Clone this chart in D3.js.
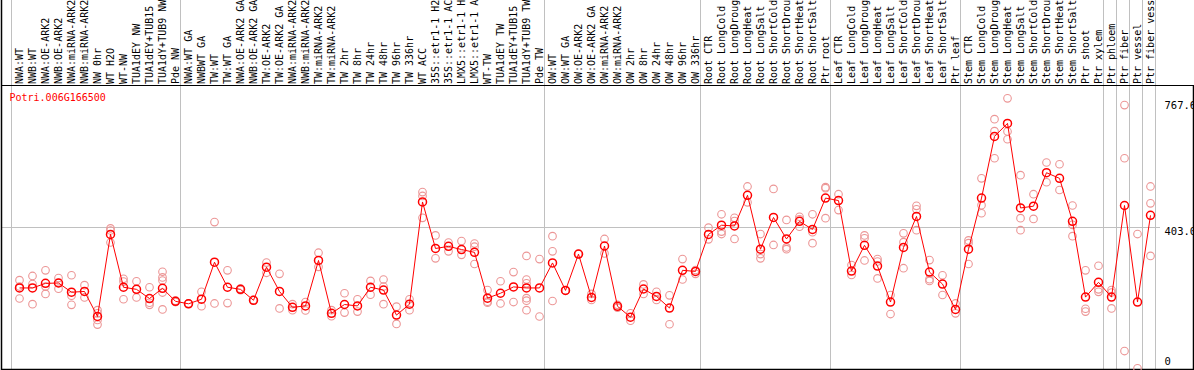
<!DOCTYPE html>
<html><head><meta charset="utf-8">
<script src="https://cdn.jsdelivr.net/npm/d3@7/dist/d3.min.js"></script>
<style>body{margin:0;background:#fff}svg{display:block}</style>
</head><body>
<svg id="c" width="1194" height="370"></svg>
<script>
const categories = ["NWA:WT","NWB:WT","NWA:OE-ARK2","NWB:OE-ARK2","NWA:miRNA-ARK2","NWB:miRNA-ARK2","NW 0hr","WT H2O","WT-NW","TUA1dEY NW","TUA1dEY+TUB15 NW","TUA1dY+TUB9 NW","Pde NW",
"NWA:WT GA","NWBWT GA","TW:WT","TW:WT GA","NWA:OE-ARK2 GA","NWB:OE-ARK2 GA","TW:OE-ARK2","TW:OE-ARK2 GA","NWA:miRNA-ARK2 GA","NWB:miRNA-ARK2 GA","TW:miRNA-ARK2","TW:miRNA-ARK2 GA","TW 2hr","TW 8hr","TW 24hr","TW 48hr","TW 96hr","TW 336hr","WT ACC","35S::etr1-1 H2O","35S::etr1-1 ACC","LMX5::etr1-1 H2O","LMX5::etr1-1 ACC","WT-TW","TUA1dEY TW","TUA1dEY+TUB15 TW","TUA1dY+TUB9 TW","Pde TW",
"OW:WT","OW:WT GA","OW:OE-ARK2","OW:OE-ARK2 GA","OW:miRNA-ARK2","OW:miRNA-ARK2 GA","OW 2hr","OW 8hr","OW 24hr","OW 48hr","OW 96hr","OW 336hr",
"Root CTR","Root LongCold","Root LongDrought","Root LongHeat","Root LongSalt","Root ShortCold","Root ShortDrought","Root ShortHeat","Root ShortSalt","Ptr root",
"Leaf CTR","Leaf LongCold","Leaf LongDrought","Leaf LongHeat","Leaf LongSalt","Leaf ShortCold","Leaf ShortDrought","Leaf ShortHeat","Leaf ShortSalt","Ptr leaf",
"Stem CTR","Stem LongCold","Stem LongDrought","Stem LongHeat","Stem LongSalt","Stem ShortCold","Stem ShortDrought","Stem ShortHeat","Stem ShortSalt","Ptr shoot","Ptr xylem",
"Ptr phloem","Ptr fiber","Ptr vessel","Ptr fiber vessel"];

const meanValues = [230,230,243,244,218,220,149,382,232,226,200,229,192,
185,198,303,232,226,195,289,220,175,179,308,158,183,179,232,224,153,184,474,342,348,339,331,201,215,233,230,230,
301,223,326,203,349,178,147,227,206,173,280,277,
382,408,406,493,340,430,369,419,396,485,
478,278,351,292,190,345,433,275,241,169,
340,485,660,697,457,462,557,541,419,204,246,
204,464,190,436];

const replicateValues = [
[252,234,200],[264,241,184],[280,234,213],[258,244,228],[266,208,182],[238,203],[167,158,139,126],[399,393,359],[256,248,198],[249,203],[232,188,182],[276,260,251,217,169],[190,194],
[185,186],[219,178],[417,186],[280,187],[224,228],[195,196],[302,273],[270,172],[184,167],[190,166],[330,290],[167,150],[215,160],[198,163],[250,211],[254,234,184],[177,128],[198,167],[502,491,429],[379,314],[359,334],[363,324],[356,347,298],[224,191,188],[249,186],[275,190],[321,254,243,201,194,167],[312,149],
[377,334,193],[223,223],[326,326],[213,196],[369,328],[182,174],[158,137],[240,213],[219,196],[209,127],[312,254],[281,270],
[401,368],[439,390,383],[429,420,369],[518,473],[383,326,314],[511,352],[423,345,340],[432,425,404],[439,388,357],[516,513,428],
[496,451],[295,267],[379,371,308],[312,305,257],[210,156],[385,360,286],[463,453,394],[309,255,250],[266,210],[186,158],
[365,357,298],[541,465,442],[709,675,598],[768,674,652],[550,428,394],[496,426],[586,530],[581,508],[464,409,377],[280,171,163],[293,226,219],
[224,217,172],[749,598,51],[383,2],[518,470,321]];

const groupStarts = ["NWA:WT","NWA:WT GA","OW:WT","Root CTR","Leaf CTR","Stem CTR","Ptr phloem","Ptr fiber","Ptr vessel","Ptr fiber vessel"];
const yTicks = [767.6, 403.0, 0];
const yTickLabels = ["767.6","403.0","0"];
const geneName = "Potri.006G166500";

const svg = d3.select("#c");
const FONT = "'DejaVu Sans Mono', 'Liberation Mono', monospace";
const x = d3.scaleBand().domain(categories).range([11, 1155]).paddingInner(0).paddingOuter(0);
const y = d3.scaleLinear().domain([0, 767.6]).range([369, 98.5]);
const px = c => x(c) + 8.5;

// vertical group gridlines
const vlines = groupStarts.map(c => x(c)).concat([x.range()[1]]);
svg.append("g").selectAll("line").data(vlines).join("line")
  .attr("x1", d => Math.round(d) + 0.5).attr("x2", d => Math.round(d) + 0.5)
  .attr("y1", 0).attr("y2", 370)
  .attr("stroke", "#c0c0c0").attr("stroke-width", 1);

// horizontal gridline at middle tick
svg.append("line")
  .attr("x1", 2).attr("x2", 1160)
  .attr("y1", Math.round(y(403.0)) + 0.5).attr("y2", Math.round(y(403.0)) + 0.5)
  .attr("stroke", "#c0c0c0").attr("stroke-width", 1);

// borders
svg.append("line").attr("x1", 1.5).attr("x2", 1.5).attr("y1", 0).attr("y2", 370).attr("stroke", "#000").attr("stroke-width", 1.5);
svg.append("line").attr("x1", 1193.5).attr("x2", 1193.5).attr("y1", 85).attr("y2", 370).attr("stroke", "#000").attr("stroke-width", 1.5);
svg.append("line").attr("x1", 1).attr("x2", 1194).attr("y1", 85.5).attr("y2", 85.5).attr("stroke", "#000").attr("stroke-width", 1);
svg.append("line").attr("x1", 1).attr("x2", 1194).attr("y1", 369.5).attr("y2", 369.5).attr("stroke", "#000").attr("stroke-width", 1.5);

// category labels
svg.append("g").selectAll("text").data(categories).join("text")
  .attr("transform", c => `translate(${px(c) + 3.6},84) rotate(-90)`)
  .attr("font-family", FONT).attr("font-size", 10).attr("fill", "#000")
  .text(c => c);

// right axis labels
const tickDy = [7.5, 5, -7];
svg.append("g").selectAll("text").data(yTicks).join("text")
  .attr("x", 1164.5).attr("y", (d, i) => y(d) + tickDy[i])
  .attr("dominant-baseline", "middle")
  .attr("font-family", FONT).attr("font-size", 10.5).attr("fill", "#000")
  .text((d, i) => yTickLabels[i]);

// gene name
svg.append("text").attr("x", 9.5).attr("y", 100.5)
  .attr("font-family", FONT).attr("font-size", 10).attr("fill", "#ff0000")
  .text(geneName);

// replicates
const reps = [];
categories.forEach((c, i) => replicateValues[i].forEach(v => reps.push({c, v})));
svg.append("g").selectAll("circle").data(reps).join("circle")
  .attr("cx", d => px(d.c)).attr("cy", d => y(d.v)).attr("r", 3.8)
  .attr("fill", "none").attr("stroke", "#ec9696").attr("stroke-width", 1.1);

// mean line
const line = d3.line().x((d, i) => px(categories[i])).y(d => y(d));
svg.append("path").datum(meanValues).attr("d", line)
  .attr("fill", "none").attr("stroke", "#ff0000").attr("stroke-width", 1);

// mean points
svg.append("g").selectAll("circle").data(meanValues).join("circle")
  .attr("cx", (d, i) => px(categories[i])).attr("cy", d => y(d)).attr("r", 4)
  .attr("fill", "none").attr("stroke", "#ff0000").attr("stroke-width", 1.5);
</script>
</body></html>
